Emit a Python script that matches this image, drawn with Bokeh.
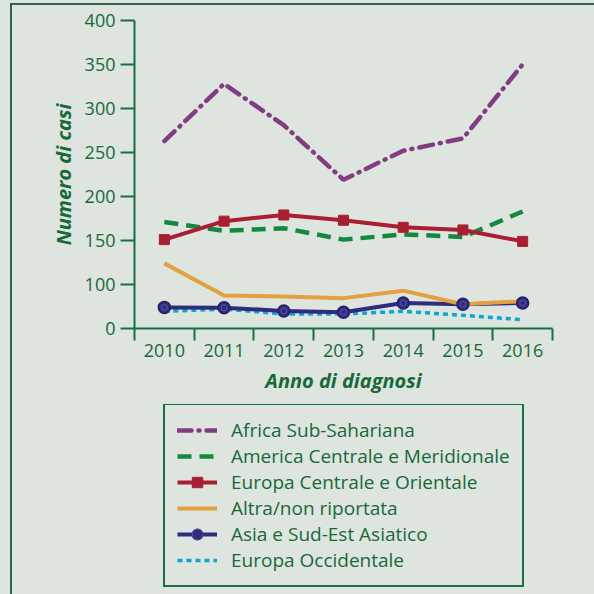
from bokeh.plotting import figure
from bokeh.layouts import column
from bokeh.models import (Range1d, FixedTicker, Legend, LegendItem, ColumnDataSource,
                          CustomJSTransform, GlobalInlineStyleSheet)
from bokeh.transform import transform
from bokeh.embed import file_html
from bokeh.resources import INLINE

# ---- data ----
years = [2010, 2011, 2012, 2013, 2014, 2015, 2016]
africa = [263, 328, 281, 219, 252, 266, 350]
america = [171, 161, 164, 151, 157, 154, 183]
europa_co = [151, 172, 179, 173, 165, 162, 149]
altra = [124, 75, 73, 69, 86, 55, 62]
asia = [48, 47, 40, 37, 58, 55, 58]
europa_occ = [39, 44, 33, 33, 39, 30, 20]
y_tick_values = [0, 100, 150, 200, 250, 300, 350, 400]
labels = ["Africa Sub-Sahariana", "America Centrale e Meridionale",
          "Europa Centrale e Orientale", "Altra/non riportata",
          "Asia e Sud-Est Asiatico", "Europa Occidentale"]

# ---- style ----
BG = "#dde5de"
GREEN = "#17693a"
AXIS = "#17703d"
PURPLE = "#833c83"
DGREEN = "#11893f"
RED = "#aa1e32"
ORANGE = "#e3a040"
NAVY = "#2f2b7d"
CYAN = "#0aa6d8"
FONT = "Open Sans"

# broken y axis: 0..100 compressed to half scale
BREAK = 100.0
def compress(v):
    return v if v >= BREAK else BREAK / 2 + v / 2

tf = CustomJSTransform(
    func="return x >= 100 ? x : 50 + x / 2;",
    v_func="const out = new Float64Array(xs.length); for (let i = 0; i < xs.length; i++) { const v = xs[i]; out[i] = v >= 100 ? v : 50 + v / 2; } return out;",
)

src = ColumnDataSource(dict(x=years, africa=africa, america=america, europa_co=europa_co,
                            altra=altra, asia=asia, europa_occ=europa_occ))

css = GlobalInlineStyleSheet(css=f"""
body {{ background-color: {BG}; }}
body::before {{ content: ''; position: fixed; left: 10px; top: 3px; right: 0; bottom: 0;
  border-left: 2px solid #2e6340; border-top: 2px solid #2e6340; pointer-events: none; z-index: 10; }}
""")

p = figure(width=594, height=404, x_range=Range1d(2009.5, 2016.5), y_range=Range1d(50, 400),
           output_backend="svg", toolbar_location=None,
           min_border_left=134, min_border_right=42, min_border_top=20, min_border_bottom=76,
           stylesheets=[css])
p.background_fill_color = BG
p.border_fill_color = BG
p.outline_line_color = None
p.grid.visible = False

# axes
p.xaxis.ticker = FixedTicker(ticks=years, minor_ticks=[y - 0.5 for y in years] + [years[-1] + 0.5])
p.xaxis.major_tick_out = 0
p.xaxis.major_tick_in = 0
p.xaxis.minor_tick_out = 12
p.xaxis.minor_tick_in = 0
p.xaxis.minor_tick_line_color = AXIS
p.xaxis.minor_tick_line_width = 2
p.xaxis.major_label_standoff = 3
p.xaxis.axis_label = "Anno di diagnosi"
p.xaxis.axis_label_standoff = 7

tick_pos = [compress(v) for v in y_tick_values]
p.yaxis.ticker = FixedTicker(ticks=tick_pos)
p.yaxis.major_label_overrides = {tp: str(v) for tp, v in zip(tick_pos, y_tick_values)}
p.yaxis.major_tick_out = 14
p.yaxis.major_tick_in = 0
p.yaxis.minor_tick_out = 0
p.yaxis.minor_tick_in = 0
p.yaxis.major_label_standoff = 5
p.yaxis.axis_label = "Numero di casi"
p.yaxis.axis_label_standoff = 5

for ax in (p.xaxis, p.yaxis):
    ax.axis_line_color = AXIS
    ax.axis_line_width = 2
    ax.major_tick_line_color = AXIS
    ax.major_tick_line_width = 2
    ax.major_label_text_font = FONT
    ax.major_label_text_font_size = "18px"
    ax.major_label_text_color = GREEN
    ax.axis_label_text_font = FONT
    ax.axis_label_text_font_size = "20px"
    ax.axis_label_text_font_style = "bold italic"
    ax.axis_label_text_color = GREEN

# ---- series styles ----
styles = {
    "occ": dict(line_color=CYAN, line_width=3.5, line_dash="5 4"),
    "asia": dict(line_color=NAVY, line_width=4),
    "altra": dict(line_color=ORANGE, line_width=4),
    "am": dict(line_color=DGREEN, line_width=4.5, line_dash="14 8"),
    "eco": dict(line_color=RED, line_width=4),
    "afr": dict(line_color=PURPLE, line_width=4.5, line_dash="14 7 1 7", line_cap="round"),
}
asia_m = dict(marker="circle", size=12, fill_color=NAVY, line_color="#24216a", line_width=1.5)
asia_m2 = dict(marker="circle", size=6, fill_alpha=0, line_color="#5a57a8", line_width=1)
eco_m = dict(marker="square", size=10, fill_color=RED, line_color=RED)

p.line("x", transform("europa_occ", tf), source=src, **styles["occ"])
p.line("x", transform("asia", tf), source=src, **styles["asia"])
p.line("x", transform("altra", tf), source=src, **styles["altra"])
p.scatter("x", transform("asia", tf), source=src, **asia_m)
p.scatter("x", transform("asia", tf), source=src, **asia_m2)
p.line("x", transform("america", tf), source=src, **styles["am"])
p.line("x", transform("europa_co", tf), source=src, **styles["eco"])
p.scatter("x", transform("europa_co", tf), source=src, **eco_m)
p.line("x", transform("africa", tf), source=src, **styles["afr"])

# ---- legend panel (separate figure below; its view range shows no data) ----
p2 = figure(width=594, height=190, x_range=Range1d(0, 1), y_range=Range1d(0, 1),
            output_backend="svg", toolbar_location=None, x_axis_type=None, y_axis_type=None,
            min_border=0)
p2.background_fill_color = BG
p2.border_fill_color = BG
p2.outline_line_color = None
p2.grid.visible = False

l_afr = p2.line("x", "africa", source=src, **styles["afr"])
l_am = p2.line("x", "america", source=src, **styles["am"])
l_eco = p2.line("x", "europa_co", source=src, **styles["eco"])
l_eco_m = p2.scatter("x", "europa_co", source=src, **eco_m)
l_altra = p2.line("x", "altra", source=src, **styles["altra"])
l_asia = p2.line("x", "asia", source=src, **styles["asia"])
l_asia_m = p2.scatter("x", "asia", source=src, **asia_m)
l_asia_m2 = p2.scatter("x", "asia", source=src, **asia_m2)
l_occ = p2.line("x", "europa_occ", source=src, **styles["occ"])

legend = Legend(items=[
    LegendItem(label=labels[0], renderers=[l_afr]),
    LegendItem(label=labels[1], renderers=[l_am]),
    LegendItem(label=labels[2], renderers=[l_eco, l_eco_m]),
    LegendItem(label=labels[3], renderers=[l_altra]),
    LegendItem(label=labels[4], renderers=[l_asia, l_asia_m, l_asia_m2]),
    LegendItem(label=labels[5], renderers=[l_occ]),
], location=(29, 7))
legend.margin = 0
legend.label_text_font = FONT
legend.label_text_font_size = "19px"
legend.label_text_color = GREEN
legend.glyph_width = 40
legend.glyph_height = 26
legend.label_height = 26
legend.spacing = 0
legend.padding = 12
legend.label_standoff = 14
legend.border_line_color = "#1a6e3c"
legend.border_line_width = 2
legend.border_line_alpha = 1
legend.background_fill_color = BG
legend.background_fill_alpha = 1
p2.add_layout(legend)

layout = column(p, p2, spacing=0)
open("out.html", "w").write(file_html(layout, INLINE))
